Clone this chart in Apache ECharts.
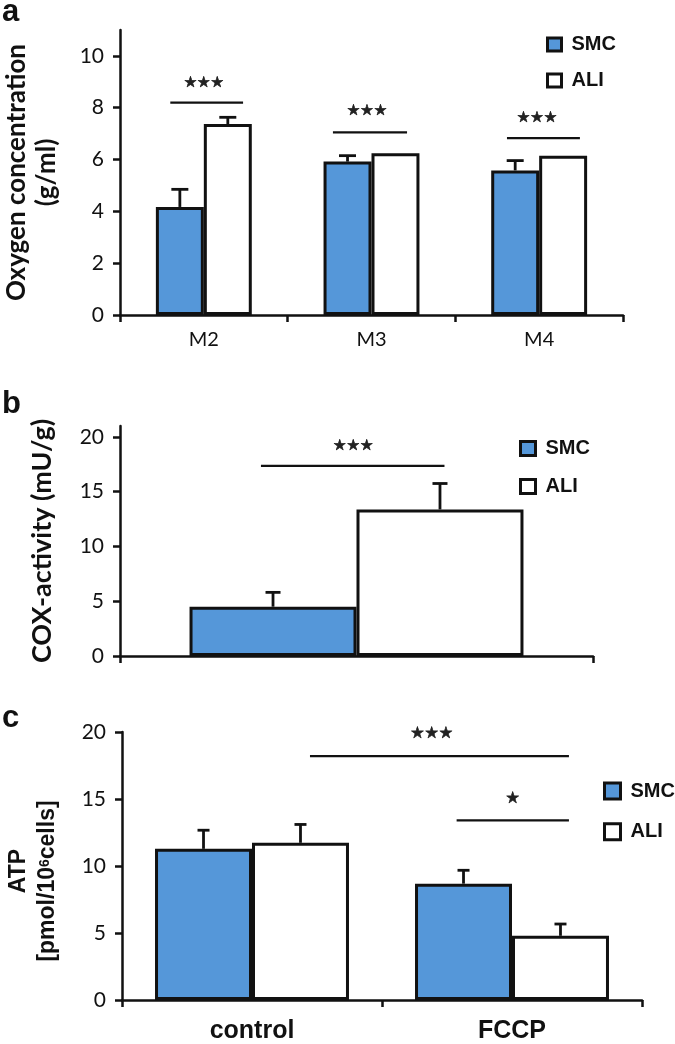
<!DOCTYPE html>
<html><head><meta charset="utf-8">
<script src="https://cdn.jsdelivr.net/npm/echarts@6/dist/echarts.min.js"></script>
<style>html,body{margin:0;padding:0;background:#fff}#c{width:675px;height:1044px}</style>
</head><body><div id="c"></div>
<script>
// ---------- data ----------
const seriesNames = ['SMC', 'ALI'];

// Panel a: oxygen concentration (g/ml)
const aCategories = ['M2', 'M3', 'M4'];
const aSMC = [4.17, 5.92, 5.58];
const aSMCTop = [4.85, 6.15, 5.96];   // mean + error
const aALI = [7.37, 6.24, 6.15];
const aALITop = [7.63, 6.24, 6.15];
const aTicks = [0, 2, 4, 6, 8, 10];
// significance: [from (category units), to, y, label, label x, label y]
const aSig = [
  [-0.20, 0.234, 8.2, '★★★', 0.0, 8.96],
  [0.770, 1.212, 7.05, '★★★', 0.973, 7.88],
  [1.808, 2.243, 6.83, '★★★', 1.987, 7.6]
];

// Panel b: COX-activity (mU/g)
const bCategories = [''];
const bSMC = [4.5];
const bSMCTop = [5.81];
const bALI = [13.38];
const bALITop = [15.75];
const bTicks = [0, 5, 10, 15, 20];
const bSig = [
  [-0.202, 0.186, 17.36, '★★★', -0.007, 19.16]
];

// Panel c: ATP (pmol/10^6 cells)
const cCategories = ['control', 'FCCP'];
const cSMC = [11.28, 8.68];
const cSMCTop = [12.67, 9.68];
const cALI = [11.73, 4.79];
const cALITop = [13.1, 5.67];
const cTicks = [0, 5, 10, 15, 20];
const cSig = [
  [0.223, 1.219, 18.2, '★★★', 0.691, 19.84],
  [0.787, 1.219, 13.4, '★', 1.003, 15.04]
];

// ---------- styling ----------
const BLUE = '#5597D9';
const INK = '#111';
const panels = [
  { cats: aCategories, smc: aSMC, smcTop: aSMCTop, ali: aALI, aliTop: aALITop, ticks: aTicks, sig: aSig,
    max: 11, interval: 2, gap: 0.428, cap: 17, starSize: 15,
    grid: { left: 120, top: 30, width: 503, height: 285 },
    name: 'Oxygen concentration\n(g/ml)', nameGap: 58,
    nameStyle: { fontFamily: 'Lato', fontWeight: 'bold', fontSize: 26, lineHeight: 30, color: INK },
    xLabel: { fontFamily: 'Lato', fontSize: 20, color: INK, margin: 15 },
    legend: { left: 541, top: 29.5, itemWidth: 14, itemHeight: 13, itemGap: 16 } },
  { cats: bCategories, smc: bSMC, smcTop: bSMCTop, ali: bALI, aliTop: bALITop, ticks: bTicks, sig: bSig,
    max: 21, interval: 5, gap: 0.294, cap: 15, starSize: 15,
    grid: { left: 120, top: 426, width: 473, height: 230 },
    name: 'COX-activity (mU/g)', nameGap: 63,
    nameStyle: { fontFamily: 'Lato', fontWeight: 'bold', fontSize: 27, lineHeight: 30, color: INK },
    xLabel: { show: false },
    legend: { left: 514, top: 433.5, itemWidth: 15, itemHeight: 14, itemGap: 18 } },
  { cats: cCategories, smc: cSMC, smcTop: cSMCTop, ali: cALI, aliTop: cALITop, ticks: cTicks, sig: cSig,
    max: 20, interval: 5, gap: 0.254, cap: 12, starSize: 16,
    grid: { left: 122, top: 732, width: 520, height: 268 },
    name: '{t|ATP}\n[pmol/10{s|6}cells]', nameGap: 60,
    nameStyle: { fontFamily: 'Liberation Sans, Arial', fontWeight: 'bold', fontSize: 23, lineHeight: 29, color: INK,
      padding: [0, 30, 0, 0],
      rich: {
        t: { fontFamily: 'Liberation Sans, Arial', fontWeight: 'bold', fontSize: 23, color: INK, padding: [0, 0, 0, 20] },
        s: { fontFamily: 'Liberation Sans, Arial', fontWeight: 'bold', fontSize: 14, verticalAlign: 'bottom', padding: [0, 0, 10, 0], color: INK }
      } },
    xLabel: { fontFamily: 'Liberation Sans, Arial', fontWeight: 'bold', fontSize: 25, color: INK, margin: 19 },
    legend: { left: 598, top: 776, itemWidth: 16, itemHeight: 16, itemGap: 20.7 } }
];

const grids = [], xAxes = [], yAxes = [], series = [], legends = [];
panels.forEach((p, i) => {
  grids.push(Object.assign({ outerBoundsMode: 'none', containLabel: false }, p.grid));
  xAxes.push({
    type: 'category', gridIndex: i, data: p.cats,
    axisLine: { show: true, lineStyle: { color: INK, width: 2.5 } },
    axisTick: { show: true, length: 7, lineStyle: { color: INK, width: 2.5 } },
    axisLabel: p.xLabel
  });
  yAxes.push({
    type: 'value', gridIndex: i, min: 0, max: p.max, interval: p.interval,
    name: p.name, nameLocation: 'middle', nameRotate: 90, nameGap: p.nameGap, nameTextStyle: p.nameStyle,
    axisLine: { show: true, lineStyle: { color: INK, width: 2.5 } },
    axisTick: { show: true, length: 7, lineStyle: { color: INK, width: 2.5 }, customValues: p.ticks },
    axisLabel: { customValues: p.ticks, fontFamily: 'Lato', fontSize: 21, color: INK, margin: 16 },
    splitLine: { show: false }
  });
  const barBase = { type: 'bar', xAxisIndex: i, yAxisIndex: i, barGap: '0%',
    barCategoryGap: (p.gap * 100) + '%', z: 2 };
  series.push(Object.assign({}, barBase, { name: seriesNames[0], data: p.smc,
    itemStyle: { color: BLUE, borderColor: INK, borderWidth: 3 } }));
  series.push(Object.assign({}, barBase, { name: seriesNames[1], data: p.ali,
    itemStyle: { color: '#fff', borderColor: INK, borderWidth: 3 } }));

  // error bars (upper only)
  const errData = [];
  p.cats.forEach((c, k) => {
    errData.push([k, 0, p.smc[k], p.smcTop[k]]);
    errData.push([k, 1, p.ali[k], p.aliTop[k]]);
  });
  series.push({
    type: 'custom', xAxisIndex: i, yAxisIndex: i, z: 3, clip: false, silent: true,
    data: errData, encode: { x: 0, y: 3 },
    renderItem: (params, api) => {
      const k = api.value(0), s = api.value(1), v = api.value(2), e = api.value(3);
      if (!(e > v)) return null;
      const band = api.size([1, 0])[0];
      const bw = band * (1 - p.gap) / 2;
      const cx = api.coord([k, 0])[0] + (s === 0 ? -bw / 2 : bw / 2);
      const y0 = api.coord([k, v])[1], y1 = api.coord([k, e])[1];
      return { type: 'group', children: [
        { type: 'line', shape: { x1: cx, y1: y0, x2: cx, y2: y1 }, style: { stroke: INK, lineWidth: 2.8 } },
        { type: 'line', shape: { x1: cx - p.cap / 2, y1: y1, x2: cx + p.cap / 2, y2: y1 }, style: { stroke: INK, lineWidth: 2.8 } }
      ] };
    }
  });

  // significance bars
  series.push({
    type: 'custom', xAxisIndex: i, yAxisIndex: i, z: 3, clip: false, silent: true,
    data: p.sig.map(s => [0, s[2]]),
    renderItem: (params, api) => {
      const s = p.sig[params.dataIndex];
      const band = api.size([1, 0])[0];
      const x0 = api.coord([0, 0])[0];
      const y = api.coord([0, s[2]])[1];
      const ly = api.coord([0, s[5]])[1];
      return { type: 'group', children: [
        { type: 'line', shape: { x1: x0 + s[0] * band, y1: y, x2: x0 + s[1] * band, y2: y }, style: { stroke: INK, lineWidth: 2.2 } },
        { type: 'text', style: { text: s[3], x: x0 + s[4] * band, y: ly, align: 'center', verticalAlign: 'middle',
          fontFamily: 'DejaVu Sans', fontWeight: 'bold', fontSize: p.starSize, fill: '#222', stroke: '#222', lineWidth: 0.6 } }
      ] };
    }
  });

  legends.push(Object.assign({
    orient: 'vertical', data: seriesNames, icon: 'rect', selectedMode: false,
    itemStyle: { borderWidth: 3 },
    textStyle: { fontFamily: 'Liberation Sans, Arial', fontWeight: 'bold', fontSize: 20, lineHeight: 20, color: INK, padding: [0, 0, 0, 5] }
  }, p.legend));
});

const chart = echarts.init(document.getElementById('c'), null, { renderer: 'canvas' });
chart.setOption({
  animation: false,
  backgroundColor: '#fff',
  grid: grids, xAxis: xAxes, yAxis: yAxes, series: series, legend: legends,
  graphic: [
    { type: 'text', style: { text: 'a', x: 2, y: 28, verticalAlign: 'bottom', fontFamily: 'Liberation Sans, Arial', fontWeight: 'bold', fontSize: 31, fill: INK } },
    { type: 'text', style: { text: 'b', x: 2, y: 420, verticalAlign: 'bottom', fontFamily: 'Liberation Sans, Arial', fontWeight: 'bold', fontSize: 31, fill: INK } },
    { type: 'text', style: { text: 'c', x: 2, y: 734, verticalAlign: 'bottom', fontFamily: 'Liberation Sans, Arial', fontWeight: 'bold', fontSize: 31, fill: INK } }
  ]
});
</script></body></html>
